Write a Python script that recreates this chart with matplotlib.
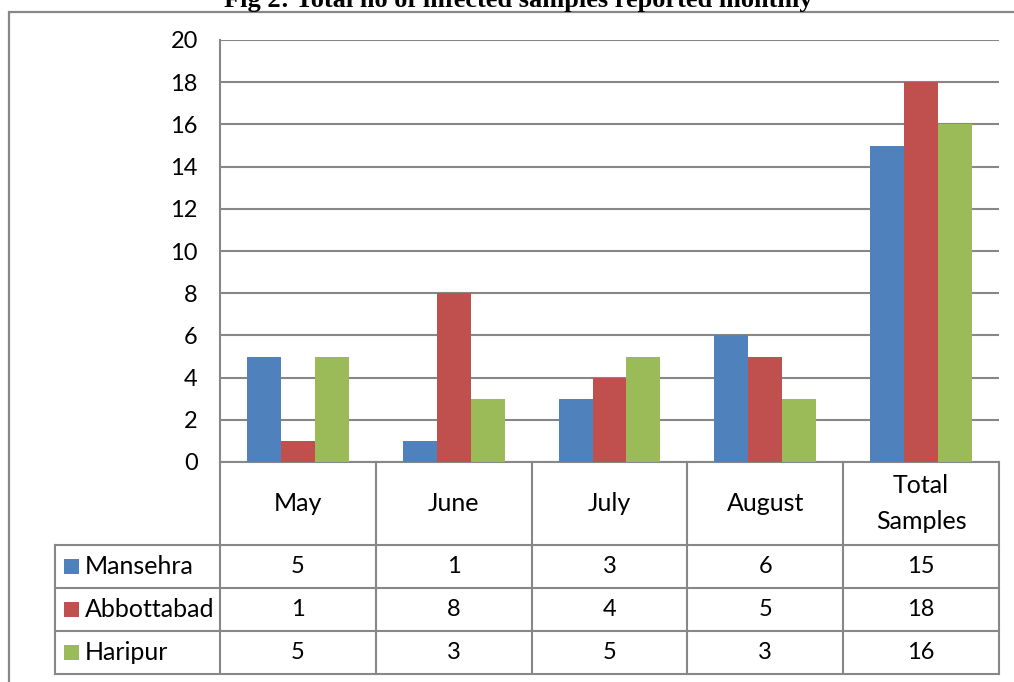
import matplotlib
matplotlib.use("Agg")
import matplotlib.pyplot as plt
from matplotlib.patches import Rectangle
from matplotlib.lines import Line2D
import matplotlib.transforms as mtransforms

categories = ["May", "June", "July", "August", "Total\nSamples"]
series_names = ["Mansehra", "Abbottabad", "Haripur"]
mansehra = [5, 1, 3, 6, 15]
abbottabad = [1, 8, 4, 5, 18]
haripur = [5, 3, 5, 3, 16]
yticks = list(range(0, 21, 2))
title = "Fig 2: Total no of infected samples reported monthly"

series = [mansehra, abbottabad, haripur]
colors = ["#4F81BD", "#C0504D", "#9BBB59"]
GRID = "#878787"
FONT = "Lato"
FS = 17
FS_WORD = 18

W, H = 1014, 682
fig = plt.figure(figsize=(W / 100, H / 100), dpi=100)

# outer border
fig.add_artist(Rectangle((9 / W, -0.1), 1.2, 1 - 12 / H + 0.1, transform=fig.transFigure,
                         fill=False, edgecolor=GRID, linewidth=1.6))

fig.text(518 / W, 1 - 7 / H, title, ha="center", va="baseline",
         family="Liberation Serif", fontweight="bold", fontsize=19)

ax = fig.add_axes([220 / W, 1 - 462 / H, (999 - 220) / W, (462 - 40) / H])
n = len(categories)
bw = 0.218
for i, (vals, col) in enumerate(zip(series, colors)):
    xs = [k + (i - 1) * bw for k in range(n)]
    ax.bar(xs, vals, width=bw, color=col, zorder=3)

ax.set_xlim(-0.5, n - 0.5)
ax.set_ylim(0, 20)
ax.set_yticks(yticks)
ax.set_yticklabels([str(t) for t in yticks], family=FONT, fontsize=FS)
ax.tick_params(axis="y", length=0, pad=16)
ax.set_xticks([])
ax.grid(axis="y", color=GRID, linewidth=1.5, zorder=0)
for s in ["top", "right", "bottom"]:
    ax.spines[s].set_visible(False)
ax.spines["left"].set_color(GRID)
ax.spines["left"].set_linewidth(1.5)

# data table below axes, using x in data coords and y in axes coords
tr = mtransforms.blended_transform_factory(ax.transData, ax.transAxes)
ah = 462 - 40
def yax(py):
    return (462 - py) / ah

y_hdr = yax(545)
row_edges = [yax(545), yax(588), yax(631), yax(674)]
x_left = -0.5 - (220 - 55) / ((999 - 220) / n)
lk = dict(color=GRID, linewidth=1.5, transform=tr, clip_on=False)

# horizontal lines
ax.add_line(Line2D([-0.5, n - 0.5], [0, 0], **lk))
for j, yy in enumerate(row_edges):
    ax.add_line(Line2D([x_left, n - 0.5], [yy, yy], **lk))
# vertical lines
for k in range(n + 1):
    ax.add_line(Line2D([k - 0.5, k - 0.5], [0, row_edges[-1]], **lk))
ax.add_line(Line2D([x_left, x_left], [row_edges[0], row_edges[-1]], **lk))

# header labels
for k, c in enumerate(categories):
    ax.text(k, (0 + y_hdr) / 2, c, transform=tr, ha="center", va="center",
            family=FONT, fontsize=FS_WORD, linespacing=1.65, clip_on=False)

# rows
px_per_unit = (999 - 220) / n
for r, (name, vals, col) in enumerate(zip(series_names, series, colors)):
    ytop, ybot = row_edges[r], row_edges[r + 1]
    ym = (ytop + ybot) / 2
    sq_x = x_left + (64 - 55) / px_per_unit
    sq_w = 15 / px_per_unit
    sq_h = 15 / ah
    ax.add_patch(Rectangle((sq_x, ym - sq_h / 2), sq_w, sq_h, transform=tr,
                           facecolor=col, edgecolor="none", clip_on=False))
    ax.text(x_left + (85 - 55) / px_per_unit, ym, name, transform=tr, ha="left",
            va="center", family=FONT, fontsize=FS_WORD, clip_on=False)
    for k, v in enumerate(vals):
        ax.text(k, ym, str(v), transform=tr, ha="center", va="center",
                family=FONT, fontsize=FS, clip_on=False)

fig.savefig("out.png", dpi=100)
